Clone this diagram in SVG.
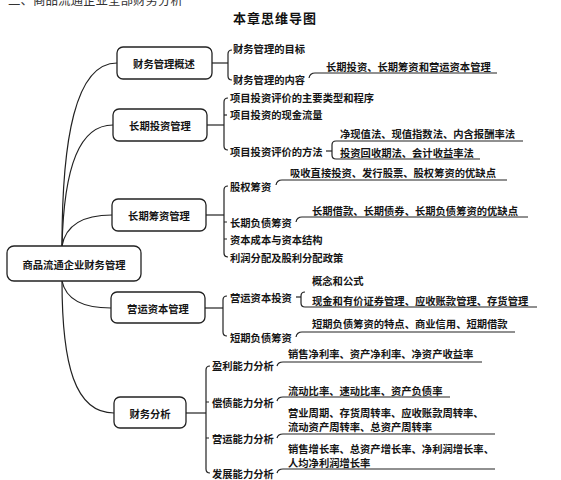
<svg xmlns="http://www.w3.org/2000/svg" width="561" height="480" viewBox="0 0 561 480">
<style>
.t{font-family:"Noto Sans CJK SC","Noto Sans",sans-serif;font-size:10.3px;font-weight:bold;fill:#151515;dominant-baseline:central}
.nt{text-anchor:middle}
.box{fill:#fff;stroke:#222;stroke-width:1.3}
.c{fill:none;stroke:#222;stroke-width:1.2}
.ttl{font-family:"Noto Sans CJK SC",sans-serif;font-size:13px;font-weight:bold;fill:#111;letter-spacing:1px;text-anchor:middle}
</style>
<rect width="561" height="480" fill="#fff"/>
<text x="8" y="5" style="font-family:'Noto Sans CJK SC',sans-serif;font-size:12.5px;fill:#333">二、商品流通企业全部财务分析</text>
<text class="ttl" x="275" y="23">本章思维导图</text>

<g id="connectors" class="c">
  <path d="M62,246 C62,140 75,63 117,63"/>
  <path d="M62,246 C64,165 80,125 113,125"/>
  <path d="M62,246 C66,224 85,215 112,215"/>
  <path d="M62,281 C66,300 85,308 111,308"/>
  <path d="M62,281 C62,365 75,413 114,413"/>
  <!-- node1 -->
  <path d="M212,63 H228"/>
  <path d="M232,50 Q228,50 228,54 V76 Q228,80 232,80"/>
  <path d="M309,78 Q310,73 315,73 H497"/>
  <!-- node2 -->
  <path d="M207,125 H224"/>
  <path d="M228,98 Q224,98 224,102 V146 Q224,150 228,150"/>
  <path d="M224,115 h3"/>
  <path d="M326,151 H332"/>
  <path d="M523,141 H336 Q332,141 332,145 V155 Q332,159 336,159 H480"/>
  <!-- node3 -->
  <path d="M206,215 H224"/>
  <path d="M228,186 Q224,186 224,190 V253 Q224,257 228,257"/>
  <path d="M224,222 h3 M224,239 h3"/>
  <path d="M276,185 Q277,180 282,180 H507"/>
  <path d="M296,222 Q297,217 302,217 H528"/>
  <!-- node4 -->
  <path d="M205,308 H223"/>
  <path d="M227,296 Q223,296 223,300 V332 Q223,336 227,336"/>
  <path d="M296,297 H301"/>
  <path d="M305,292 Q301,292 301,296 V303 Q301,307 305,307 H537"/>
  <path d="M296,337 Q297,332 302,332 H515"/>
  <!-- node5 -->
  <path d="M186,413 H206"/>
  <path d="M210,366 Q206,366 206,370 V469 Q206,473 210,473"/>
  <path d="M206,402 h3 M206,438 h3"/>
  <path d="M277,366 Q278,362 283,362 H482"/>
  <path d="M277,401 Q278,397 283,397 H450"/>
  <path d="M277,438 Q278,434 283,434 H495"/>
  <path d="M277,473 Q278,469 283,469 H495"/>
</g>

<g id="root">
  <rect class="box" x="7" y="246" width="134" height="35" rx="7"/>
  <text class="t nt" x="74" y="264">商品流通企业财务管理</text>
</g>

<g id="n1">
  <rect class="box" x="117" y="47" width="95" height="32" rx="6"/>
  <text class="t nt" x="164" y="63">财务管理概述</text>
</g>
<g id="n1-items">
  <text class="t" x="233" y="48">财务管理的目标</text>
  <text class="t" x="233" y="79">财务管理的内容</text>
  <text class="t" x="326" y="66">长期投资、长期筹资和营运资本管理</text>
</g>

<g id="n2">
  <rect class="box" x="113" y="109" width="94" height="32" rx="6"/>
  <text class="t nt" x="160" y="125">长期投资管理</text>
</g>
<g id="n2-items">
  <text class="t" x="230" y="97">项目投资评价的主要类型和程序</text>
  <text class="t" x="230" y="114">项目投资的现金流量</text>
  <text class="t" x="230" y="151">项目投资评价的方法</text>
  <text class="t" x="340" y="133">净现值法、现值指数法、内含报酬率法</text>
  <text class="t" x="340" y="152">投资回收期法、会计收益率法</text>
</g>

<g id="n3">
  <rect class="box" x="112" y="199" width="94" height="32" rx="6"/>
  <text class="t nt" x="159" y="215">长期筹资管理</text>
</g>
<g id="n3-items">
  <text class="t" x="230" y="186">股权筹资</text>
  <text class="t" x="230" y="222">长期负债筹资</text>
  <text class="t" x="230" y="239">资本成本与资本结构</text>
  <text class="t" x="230" y="257">利润分配及股利分配政策</text>
  <text class="t" x="290" y="172">吸收直接投资、发行股票、股权筹资的优缺点</text>
  <text class="t" x="312" y="210">长期借款、长期债券、长期负债筹资的优缺点</text>
</g>

<g id="n4">
  <rect class="box" x="111" y="292" width="94" height="31" rx="6"/>
  <text class="t nt" x="158" y="308">营运资本管理</text>
</g>
<g id="n4-items">
  <text class="t" x="230" y="297">营运资本投资</text>
  <text class="t" x="230" y="337">短期负债筹资</text>
  <text class="t" x="312" y="280">概念和公式</text>
  <text class="t" x="312" y="300">现金和有价证券管理、应收账款管理、存货管理</text>
  <text class="t" x="312" y="323">短期负债筹资的特点、商业信用、短期借款</text>
</g>

<g id="n5">
  <rect class="box" x="114" y="397" width="72" height="31" rx="6"/>
  <text class="t nt" x="150" y="413">财务分析</text>
</g>
<g id="n5-items">
  <text class="t" x="212" y="365">盈利能力分析</text>
  <text class="t" x="212" y="402">偿债能力分析</text>
  <text class="t" x="212" y="438">营运能力分析</text>
  <text class="t" x="212" y="473">发展能力分析</text>
  <text class="t" x="288" y="353">销售净利率、资产净利率、净资产收益率</text>
  <text class="t" x="288" y="390">流动比率、速动比率、资产负债率</text>
  <text class="t" x="288" y="412">营业周期、存货周转率、应收账款周转率、<tspan x="288" dy="14">流动资产周转率、总资产周转率</tspan></text>
  <text class="t" x="288" y="448">销售增长率、总资产增长率、净利润增长率、<tspan x="288" dy="14">人均净利润增长率</tspan></text>
</g>
</svg>
